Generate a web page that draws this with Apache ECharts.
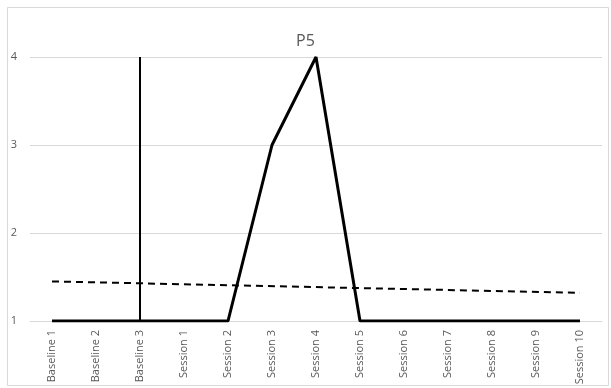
<!DOCTYPE html>
<html><head><meta charset="utf-8">
<script src="https://cdn.jsdelivr.net/npm/echarts@6/dist/echarts.min.js"></script>
<style>html,body{margin:0;padding:0;background:#fff}#c{width:611px;height:388px}</style>
</head><body><div id="c"></div>
<script>
const categories = ['Baseline 1','Baseline 2','Baseline 3','Session 1','Session 2','Session 3','Session 4','Session 5','Session 6','Session 7','Session 8','Session 9','Session 10'];
const scores = [1,1,1,1,1,3,4,1,1,1,1,1,1];
const phaseLineCategory = 'Baseline 3';
const phaseLineRange = [1,4];
const trendStart = 1.45;
const trendEnd = 1.32;
const yTicks = [1,2,3,4];

const chart = echarts.init(document.getElementById('c'), null, {renderer:'canvas'});
chart.setOption({
  animation:false,
  title:{text:'P5', left:'center', top:28, textStyle:{fontFamily:'Open Sans, Liberation Sans, sans-serif', fontSize:16, fontWeight:'normal', color:'#595959'}},
  graphic:[{type:'rect', shape:{x:7.5,y:7.5,width:601,height:378}, style:{fill:'none', stroke:'#d9d9d9', lineWidth:1}, z:-1}],
  grid:{left:30, right:9, top:57, bottom:67},
  xAxis:{type:'category', data:categories, boundaryGap:true,
    axisLine:{show:true, lineStyle:{color:'#d9d9d9', width:1}},
    axisTick:{show:false},
    axisLabel:{rotate:90, interval:0, color:'#595959', fontSize:11, fontFamily:'Open Sans, Liberation Sans, sans-serif', margin:9}},
  yAxis:{type:'value', min:yTicks[0], max:yTicks[yTicks.length-1], interval:1,
    axisLine:{show:false}, axisTick:{show:false},
    splitLine:{lineStyle:{color:'#d9d9d9', width:1}},
    axisLabel:{color:'#595959', fontSize:11, fontFamily:'Open Sans, Liberation Sans, sans-serif', margin:13}},
  series:[
    {type:'line', data:scores, symbol:'none', lineStyle:{color:'#000', width:3}, z:3},
    {type:'line', data:[[phaseLineCategory, phaseLineRange[0]],[phaseLineCategory, phaseLineRange[1]]], symbol:'none', lineStyle:{color:'#000', width:2}, z:2},
    {type:'line', data:[[categories[0], trendStart],[categories[categories.length-1], trendEnd]], symbol:'none', lineStyle:{color:'#000', width:2, type:[7,5]}, z:2}
  ]
});
</script></body></html>
